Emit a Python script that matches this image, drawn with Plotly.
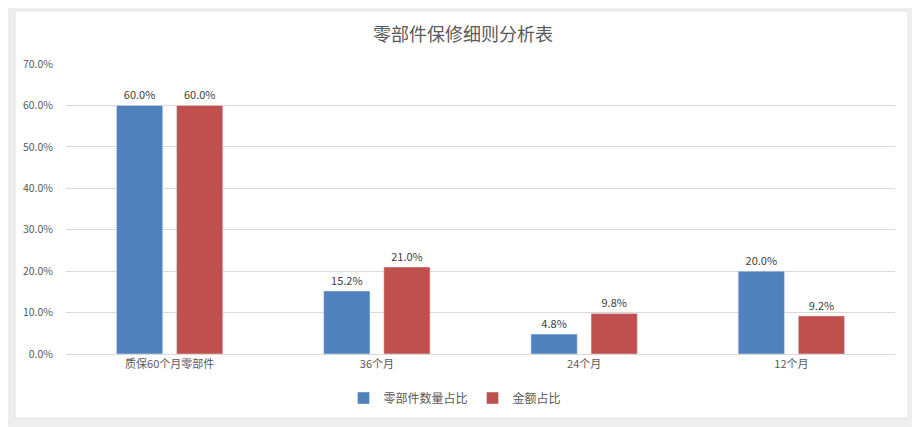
import plotly.graph_objects as go

# Chart data
categories = ['质保60个月零部件', '36个月', '24个月', '12个月']
qty_share = [0.600, 0.152, 0.048, 0.200]
amount_share = [0.600, 0.210, 0.098, 0.092]
series_names = ['零部件数量占比', '金额占比']

# The page body has an 8px margin, so work in reference pixels minus 8
OFF = 8
W, H = 920 - OFF, 427 - OFF
L, R, T, B = 66 - OFF, 25, 64 - OFF, 73
plot_w = W - L - R
plot_h = H - T - B


def px_x(p):
    return (p - OFF - L) / plot_w


def px_y(p):
    return (H - B - (p - OFF)) / plot_h


fig = go.Figure()

fig.add_trace(go.Bar(
    x=categories, y=qty_share, name=series_names[0],
    marker_color='#4F81BD',
    text=['{:.1%}'.format(v) for v in qty_share],
    textposition='outside', cliponaxis=False,
    textfont=dict(size=11, color='#404040'),
))
fig.add_trace(go.Bar(
    x=categories, y=amount_share, name=series_names[1],
    marker_color='#C0504D',
    text=['{:.1%}'.format(v) for v in amount_share],
    textposition='outside', cliponaxis=False,
    textfont=dict(size=11, color='#404040'),
))

# White panel on the light grey page, plus the red badge at the top
shapes = [
    dict(type='rect', xref='paper', yref='paper', layer='below',
         x0=px_x(15), x1=px_x(908), y0=px_y(418), y1=px_y(11),
         fillcolor='white', line=dict(color='#E2E2E2', width=1)),
    dict(type='circle', xref='paper', yref='paper', layer='below',
         x0=px_x(30), x1=px_x(97), y0=px_y(8), y1=px_y(-40),
         fillcolor='#E4E4E4', line=dict(width=0)),
    dict(type='circle', xref='paper', yref='paper', layer='below',
         x0=px_x(45), x1=px_x(82), y0=px_y(4), y1=px_y(-30),
         fillcolor='#C00000', line=dict(width=0)),
]

fig.update_layout(
    width=W, height=H,
    margin=dict(l=L, r=R, t=T, b=B),
    paper_bgcolor='#EEEEEE', plot_bgcolor='white',
    font=dict(family='Noto Sans CJK SC, Noto Sans, sans-serif', color='#595959'),
    title=dict(text='零部件保修细则分析表', x=px_x(463), xanchor='center',
               xref='paper', y=1 - (35 - OFF) / H, yanchor='middle',
               font=dict(size=18, color='#595959')),
    barmode='group', bargap=0.42, bargroupgap=0.23,
    showlegend=True,
    legend=dict(orientation='h', x=px_x(455), xanchor='center',
                y=px_y(398), yanchor='middle',
                font=dict(size=12, color='#595959'),
                itemwidth=30, bgcolor='rgba(0,0,0,0)'),
    shapes=shapes,
)

fig.update_yaxes(range=[0, 0.7], dtick=0.1, tickformat='.1%',
                 gridcolor='#D9D9D9', gridwidth=1, zeroline=False,
                 showline=False, ticks='', ticklabelstandoff=12,
                 tickfont=dict(size=10.5, color='#595959'))
fig.update_xaxes(showline=True, linecolor='#D9D9D9', ticks='',
                 tickfont=dict(size=11, color='#595959'))

fig.write_html('out.html')
